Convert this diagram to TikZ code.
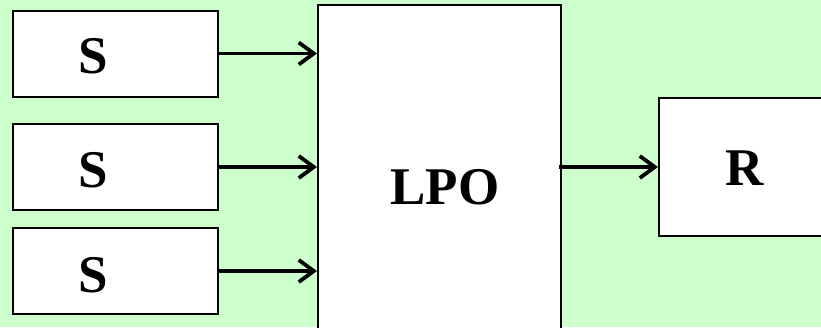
\documentclass[tikz,border=0pt]{standalone}
\usepackage{fontspec}
\setmainfont{Liberation Serif}
\usetikzlibrary{arrows.meta}
\definecolor{palegreen}{RGB}{204,255,204}

\begin{document}
\begin{tikzpicture}[x=1pt,y=-1pt,
	blok/.style={draw=black,fill=white,line width=2pt,rectangle,inner sep=0pt},
	txt/.style={font=\fontsize{53}{60}\selectfont\bfseries,inner sep=0pt},
	pil/.style={line width=3.8pt,-{Straight Barb[length=15pt,width=22pt]}}]
	\clip (0,0) rectangle (821,327);
	\fill[palegreen] (0,0) rectangle (821,327);
	
	% three sources on the left
	\node[blok,minimum width=205pt,minimum height=86pt,label={[txt,xshift=-22pt,yshift=-2.5pt]center:S}] (s1) at (115.5,53.5) {};
	\node[blok,minimum width=205pt,minimum height=86pt,label={[txt,xshift=-22pt,yshift=-3pt]center:S}] (s2) at (115.5,167) {};
	\node[blok,minimum width=205pt,minimum height=86pt,label={[txt,xshift=-22pt,yshift=-4pt]center:S}] (s3) at (115.5,271) {};
	
	\node[blok,minimum width=243pt,minimum height=345pt,label={[txt,xshift=5.5pt,yshift=-9.5pt]center:LPO}] (lpo) at (439.5,177.5) {};
	\node[blok,minimum width=241pt,minimum height=138pt,label={[txt,xshift=-34.5pt,yshift=-1pt]center:R}] (r) at (779.5,167) {};
	
	\foreach \s in {s1,s2,s3}
	{
		\draw[pil] (\s.east) -- (\s.east -| lpo.west);
	}
	\draw[pil] ([xshift=-3pt]r.west -| lpo.east) -- (r.west);
\end{tikzpicture}
\end{document}
